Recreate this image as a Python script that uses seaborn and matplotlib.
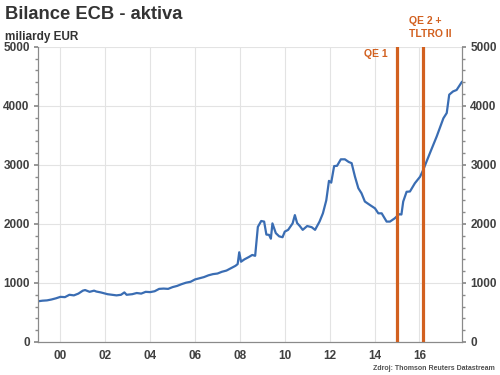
import matplotlib
matplotlib.use("Agg")
import matplotlib.pyplot as plt
from matplotlib.ticker import MultipleLocator, FixedLocator
import seaborn as sns
import pandas as pd

years = [1999.0, 1999.2, 1999.4, 1999.6, 1999.8, 2000.0, 2000.2, 2000.4, 2000.6, 2000.8,
         2001.0, 2001.1, 2001.3, 2001.5, 2001.6, 2001.8, 2002.0, 2002.1, 2002.3, 2002.5,
         2002.7, 2002.85, 2002.95, 2003.2, 2003.4, 2003.6, 2003.8, 2004.0, 2004.2, 2004.4,
         2004.6, 2004.8, 2005.0, 2005.2, 2005.4, 2005.6, 2005.8, 2006.0, 2006.2, 2006.4,
         2006.6, 2006.8, 2007.0, 2007.2, 2007.4, 2007.6, 2007.8, 2007.9, 2007.97, 2008.05,
         2008.2, 2008.4, 2008.55, 2008.68, 2008.8, 2008.95, 2009.08, 2009.18, 2009.3, 2009.38,
         2009.45, 2009.6, 2009.75, 2009.9, 2010.0, 2010.15, 2010.35, 2010.45, 2010.55, 2010.67,
         2010.8, 2011.0, 2011.2, 2011.35, 2011.55, 2011.7, 2011.85, 2011.97, 2012.07, 2012.2,
         2012.33, 2012.5, 2012.68, 2012.85, 2012.98, 2013.13, 2013.28, 2013.42, 2013.57, 2013.8,
         2014.02, 2014.17, 2014.32, 2014.54, 2014.69, 2014.9, 2015.1, 2015.2, 2015.28, 2015.43,
         2015.58, 2015.8, 2016.03, 2016.17, 2016.47, 2016.77, 2017.07, 2017.22, 2017.33, 2017.5,
         2017.66, 2017.9]
assets = [690, 700, 705, 720, 740, 765, 760, 800, 790, 820,
          870, 880, 850, 870, 855, 840, 820, 810, 800, 790,
          800, 840, 800, 810, 830, 820, 850, 845, 860, 900,
          905, 900, 930, 950, 980, 1005, 1020, 1060, 1080, 1100,
          1130, 1150, 1160, 1190, 1210, 1250, 1290, 1320, 1520, 1360,
          1400, 1440, 1475, 1460, 1950, 2050, 2040, 1820, 1815, 1750,
          2010, 1845, 1790, 1775, 1870, 1900, 2010, 2150, 2015, 1965,
          1900, 1965, 1945, 1900, 2040, 2180, 2400, 2730, 2700, 2980,
          2985, 3095, 3095, 3050, 3030, 2800, 2605, 2520, 2380, 2320,
          2265, 2180, 2180, 2040, 2040, 2095, 2165, 2160, 2380, 2545,
          2550, 2690, 2800, 2915, 3200, 3480, 3790, 3880, 4190, 4245,
          4270, 4410]

event_years = [2015.02, 2016.15]
event_labels = ["QE 1", "QE 2 +\nTLTRO II"]

x_ticks = [2000, 2002, 2004, 2006, 2008, 2010, 2012, 2014, 2016]
x_ticklabels = ["00", "02", "04", "06", "08", "10", "12", "14", "16"]
y_ticks = [0, 1000, 2000, 3000, 4000, 5000]

df = pd.DataFrame({"year": years, "assets": assets})

sns.set_theme(style="white")
plt.rcParams["font.family"] = ["Liberation Sans", "DejaVu Sans"]

text_col = "#404040"
orange = "#D2601F"
blue = "#3A6DB3"
grid_col = "#E3E3E3"
spine_col = "#8A8A8A"
tick_fs = 8.5

fig = plt.figure(figsize=(5, 3.75), dpi=100)
ax = fig.add_axes([0.076, 0.088, 0.848, 0.787])

sns.lineplot(data=df, x="year", y="assets", ax=ax, color=blue, linewidth=1.6,
             estimator=None, sort=True, zorder=3)

for ev in event_years:
    ax.axvline(ev, color=orange, linewidth=2.3, zorder=4)

ax.set_xlim(1999.0, 2017.9)
ax.set_ylim(0, 5000)
ax.set_xlabel("")
ax.set_ylabel("")

ax.xaxis.set_major_locator(FixedLocator(x_ticks))
ax.set_xticklabels(x_ticklabels)
ax.xaxis.set_minor_locator(MultipleLocator(0.25))
ax.yaxis.set_major_locator(FixedLocator(y_ticks))
ax.yaxis.set_minor_locator(MultipleLocator(200))

ax.grid(True, which="major", color=grid_col, linewidth=0.8, zorder=0)
ax.set_axisbelow(True)

ax.spines["top"].set_visible(False)
for s in ["left", "right", "bottom"]:
    ax.spines[s].set_color(spine_col)
    ax.spines[s].set_linewidth(0.8)

ax.tick_params(axis="x", which="major", direction="in", length=3, color=spine_col,
               labelsize=tick_fs, labelcolor=text_col, pad=6)
ax.tick_params(axis="x", which="minor", direction="in", length=2, color=spine_col)
ax.tick_params(axis="y", which="major", direction="out", length=3, color=spine_col,
               labelsize=tick_fs, labelcolor=text_col, pad=3)
ax.tick_params(axis="y", which="minor", direction="out", length=2, color=spine_col, left=True)
for lab in ax.get_xticklabels() + ax.get_yticklabels():
    lab.set_fontweight("bold")

ax2 = ax.twinx()
ax2.set_ylim(0, 5000)
ax2.yaxis.set_major_locator(FixedLocator(y_ticks))
ax2.yaxis.set_minor_locator(MultipleLocator(200))
ax2.spines["top"].set_visible(False)
for s in ["left", "right", "bottom"]:
    ax2.spines[s].set_color(spine_col)
    ax2.spines[s].set_linewidth(0.8)
ax2.tick_params(axis="y", which="major", direction="out", length=3, color=spine_col,
                labelsize=tick_fs, labelcolor=text_col, pad=3)
ax2.tick_params(axis="y", which="minor", direction="out", length=2, color=spine_col, right=True)
for lab in ax2.get_yticklabels():
    lab.set_fontweight("bold")
ax2.grid(False)

ax.text(event_years[0] - 0.45, 4880, event_labels[0], color=orange, fontsize=7.5,
        fontweight="bold", ha="right", va="center", zorder=5)
ax.text(event_years[1] - 0.6, 5330, event_labels[1], color=orange, fontsize=7.5,
        fontweight="bold", ha="left", va="center", linespacing=1.4, clip_on=False, zorder=5)

fig.text(0.01, 0.985, "Bilance ECB - aktiva", fontsize=13.2, fontweight="bold",
         color="#333333", ha="left", va="top")
fig.text(0.01, 0.918, "miliardy EUR", fontsize=8.5, fontweight="bold",
         color="#333333", ha="left", va="top")
fig.text(0.99, 0.008, "Zdroj: Thomson Reuters Datastream", fontsize=5, fontweight="bold",
         color="#505050", ha="right", va="bottom")

fig.savefig("out.png", dpi=100)
